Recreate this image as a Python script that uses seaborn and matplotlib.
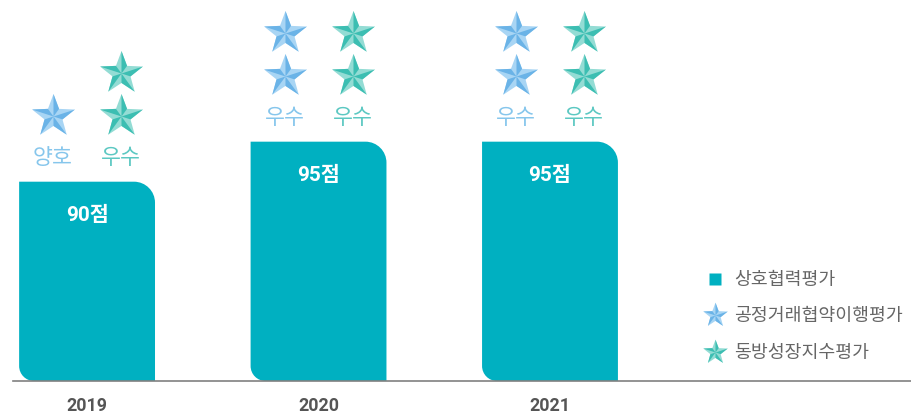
import numpy as np
import seaborn as sns
import matplotlib.pyplot as plt
from matplotlib.path import Path
from matplotlib.patches import PathPatch
from matplotlib.lines import Line2D
from matplotlib.legend_handler import HandlerTuple

# data
years = ['2019', '2020', '2021']
scores = [90, 95, 95]
fair_grade = ['양호', '우수', '우수']
fair_stars = [1, 2, 2]
growth_grade = ['우수', '우수', '우수']
growth_stars = [2, 2, 2]
legend_labels = ['상호협력평가', '공정거래협약이행평가', '동방성장지수평가']

sns.set_style('white')
plt.rcParams['font.family'] = ['Roboto', 'Noto Sans CJK KR']

bar_color = '#00B0C1'
blue_light, blue_dark, blue_text = '#A8D5F4', '#6AB3E7', '#86C6EC'
green_light, green_dark, green_text = '#93DCD4', '#3CBEB2', '#5CC8C2'

# star marker (full shape + darker facets for the bevel look)
ang_out = np.deg2rad(90 + 72 * np.arange(5))
ang_in = ang_out + np.deg2rad(36)
outer = np.c_[np.cos(ang_out), np.sin(ang_out)]
inner = 0.42 * np.c_[np.cos(ang_in), np.sin(ang_in)]
star_verts = np.empty((10, 2))
star_verts[0::2] = outer
star_verts[1::2] = inner
star_full = Path(np.vstack([star_verts, star_verts[:1]]), closed=True)
facet_verts, facet_codes = [], []
for k in range(5):
    facet_verts += [(0, 0), tuple(outer[k]), tuple(inner[k - 1]), (0, 0)]
    facet_codes += [Path.MOVETO, Path.LINETO, Path.LINETO, Path.CLOSEPOLY]
star_facet = Path(facet_verts, facet_codes)

fig = plt.figure(figsize=(9.12, 4.16), dpi=100)
ax_px = [13, 35, 899, 381]
ax = fig.add_axes([ax_px[0] / 912, ax_px[1] / 416, ax_px[2] / 912, ax_px[3] / 416])
renderer = fig.canvas.get_renderer()


def fit_size(s, target_px, **kw):
    # font size that makes the string about target_px wide
    t = fig.text(0, 0, s, fontsize=12, **kw)
    w = t.get_window_extent(renderer).width
    t.remove()
    return 12 * target_px / w


fs_legend = fit_size(legend_labels[1], 169)
fs_grade = fit_size('우수', 40, fontweight='light')
fs_score = fit_size('95점', 43, fontweight='bold')
fs_year = fit_size('2019', 41, fontweight='bold')

sns.barplot(x=years, y=scores, color=bar_color, width=0.587, saturation=1, ax=ax)

ax.set_xlim(-0.32, 3.564)
ax.set_ylim(65.1, 112.7)
xlo, xhi = ax.get_xlim()
ylo, yhi = ax.get_ylim()
ppx = ax_px[2] / (xhi - xlo)
ppy = ax_px[3] / (yhi - ylo)


def leaf_path(x0, y0, x1, y1, r_tr, r_bl):
    k = 0.5523
    rxt, ryt = r_tr / ppx, r_tr / ppy
    rxb, ryb = r_bl / ppx, r_bl / ppy
    verts = [(x0, y0 + ryb), (x0, y1), (x1 - rxt, y1),
             (x1 - rxt + k * rxt, y1), (x1, y1 - ryt + k * ryt), (x1, y1 - ryt),
             (x1, y0), (x0 + rxb, y0),
             (x0 + rxb - k * rxb, y0), (x0, y0 + ryb - k * ryb), (x0, y0 + ryb),
             (x0, y0 + ryb)]
    codes = [Path.MOVETO, Path.LINETO, Path.LINETO,
             Path.CURVE4, Path.CURVE4, Path.CURVE4,
             Path.LINETO, Path.LINETO,
             Path.CURVE4, Path.CURVE4, Path.CURVE4,
             Path.CLOSEPOLY]
    return Path(verts, codes)


for bar in list(ax.patches):
    x0, w = bar.get_x(), bar.get_width()
    y1 = bar.get_y() + bar.get_height()
    y0 = max(bar.get_y(), ylo)
    bar.set_visible(False)
    ax.add_patch(PathPatch(leaf_path(x0, y0, x0 + w, y1, 21, 15),
                           facecolor=bar_color, edgecolor='none', zorder=2))

# stars and grade labels
star_dx = 34 / ppx
star_dy = [66 / ppy, 109 / ppy]
star_s = 1050
groups = [(-star_dx, fair_stars, fair_grade, blue_light, blue_dark, blue_text),
          (star_dx, growth_stars, growth_grade, green_light, green_dark, green_text)]
for i, score in enumerate(scores):
    ax.text(i, score - 34 / ppy, f'{score}점', ha='center', va='center',
            color='white', fontsize=fs_score, fontweight='bold', zorder=4)
    for dx, counts, grades, light, dark, tcol in groups:
        xs = [i + dx] * counts[i]
        ys = [score + star_dy[j] for j in range(counts[i])]
        ax.scatter(xs, ys, marker=star_full, s=star_s, c=light, linewidths=0, zorder=3)
        ax.scatter(xs, ys, marker=star_facet, s=star_s, c=dark, linewidths=0, zorder=3)
        ax.text(i + dx, score + 23.5 / ppy, grades[i], ha='center', va='center',
                color=tcol, fontsize=fs_grade, fontweight='light', zorder=4)

# axes styling
sns.despine(ax=ax, left=True)
ax.spines['bottom'].set_color('#808080')
ax.spines['bottom'].set_linewidth(1.2)
ax.set_yticks([])
ax.set_xlabel('')
ax.set_ylabel('')
ax.tick_params(axis='x', length=0, pad=11.5, labelsize=fs_year, labelcolor='#555555')
for lab in ax.get_xticklabels():
    lab.set_fontweight('bold')
ax.grid(False)

# legend
handles = [
    Line2D([], [], ls='none', marker='s', ms=8.8, mfc=bar_color, mec='none'),
    (Line2D([], [], ls='none', marker=star_full, ms=18.5, mfc=blue_light, mec='none'),
     Line2D([], [], ls='none', marker=star_facet, ms=18.5, mfc=blue_dark, mec='none')),
    (Line2D([], [], ls='none', marker=star_full, ms=18.5, mfc=green_light, mec='none'),
     Line2D([], [], ls='none', marker=star_facet, ms=18.5, mfc=green_dark, mec='none')),
]
fs_px = fs_legend * 100 / 72
fig.legend(handles, legend_labels, handler_map={tuple: HandlerTuple(ndivide=1)},
           loc='upper left', bbox_to_anchor=(704 / 912, 1 - 271 / 416),
           frameon=False, fontsize=fs_legend, labelcolor='#666666',
           handlelength=23 / fs_px, handletextpad=7 / fs_px, labelspacing=18.5 / fs_px,
           borderpad=0, borderaxespad=0)

fig.savefig('out.png', dpi=100)
